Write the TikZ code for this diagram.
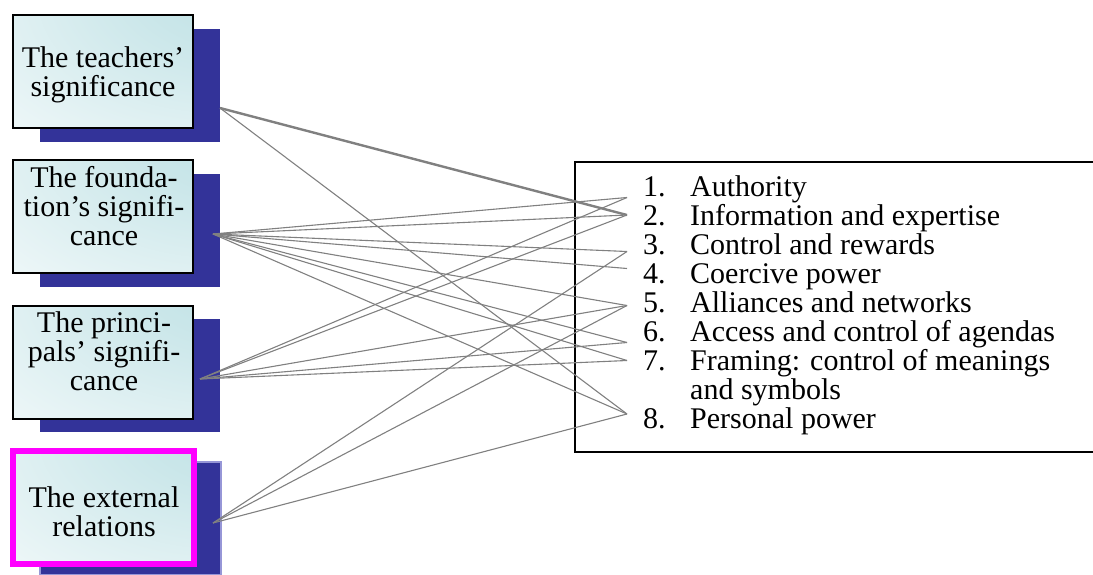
\documentclass[tikz,border=0pt]{standalone}
\usepackage{fontspec}
\setmainfont{Liberation Serif}
\usetikzlibrary{shadows}

\definecolor{shadowblue}{RGB}{51,51,153}
\definecolor{shadowedge}{RGB}{150,150,215}
\definecolor{boxteal}{RGB}{184,222,226}
\definecolor{linkgray}{RGB}{128,128,128}
\definecolor{hilite}{RGB}{255,0,255}

% teal glow spreading from the upper right corner of a box
\pgfdeclareradialshading{cornerfade}{\pgfpoint{50bp}{50bp}}{%
  color(0bp)=(boxteal); color(30bp)=(boxteal!75!white);
  color(75bp)=(boxteal!22!white); color(110bp)=(white);
  color(150bp)=(white)}

\newcommand{\itemno}[1]{\makebox[47pt][l]{#1}}

\begin{document}
\begin{tikzpicture}[x=1pt,y=1pt,
  srcbox/.style={draw=black, line width=2pt, inner sep=0pt,
    minimum width=180pt, minimum height=113pt,
    shade, shading=cornerfade,
    drop shadow={shadow xshift=27pt, shadow yshift=-13.5pt,
      fill=shadowblue, opacity=1}},
  hibox/.style={srcbox, draw=hilite, line width=6pt,
    minimum width=181pt,
    drop shadow={shadow xshift=27pt, shadow yshift=-11pt,
      fill=shadowblue, draw=shadowedge, line width=1.5pt, opacity=1}},
  boxtext/.style={align=center, inner sep=0pt, anchor=north,
    font=\fontsize{30}{29.2}\selectfont},
  link/.style={draw=linkgray, line width=1.1pt},
  strong link/.style={link, line width=2.4pt},
]
\useasboundingbox (0,0) rectangle (1093,-574);

% the four sources, each with its drop shadow
\node[srcbox] (teach) at (103,-71.5) {};
\node[srcbox] (found) at (103,-216.5) {};
\node[srcbox] (princ) at (103,-362) {};
\node[hibox]  (ext)   at (103.5,-507.5) {};

\node[boxtext] (teach-txt) at (103,-46.5) {The teachers’\\significance};
\node[boxtext] (found-txt) at (104,-166.2) {The founda-\\tion’s signifi-\\cance};
\node[boxtext] (princ-txt) at (104,-311.2) {The princi-\\pals’ signifi-\\cance};
\node[boxtext] (ext-txt)   at (104,-486.2) {The external\\relations};

% the list of power sources
\node[draw=black, line width=2pt, inner sep=0pt, anchor=north west,
  minimum width=523pt, minimum height=290pt] (frame) at (574,-161) {};
\node[anchor=north west, inner sep=0pt, align=left,
  font=\fontsize{30}{29}\selectfont] (powers) at (643,-175.5) {%
  \itemno{1.}Authority\\
  \itemno{2.}Information and expertise\\
  \itemno{3.}Control and rewards\\
  \itemno{4.}Coercive power\\
  \itemno{5.}Alliances and networks\\
  \itemno{6.}Access and control of agendas\\
  \itemno{7.}Framing: control of meanings\\
  \itemno{}and symbols\\
  \itemno{8.}Personal power};

% connector ends
\coordinate (teach-out) at (220,-108);
\coordinate (found-out) at (213,-234);
\coordinate (princ-out) at (200,-379);
\coordinate (ext-out)   at (213,-523);
\foreach \n/\y in {1/197.5,2/215,3/251.5,4/268.5,5/305.5,6/342.5,7/360.5,8/414}
  \coordinate (pw\n) at (627,-\y);

% connectors
\draw[strong link] (teach-out) -- (pw2);
\draw[link] (teach-out) -- (pw8);
\foreach \n in {1,...,8}
  \draw[link] (found-out) -- (pw\n);
\foreach \n in {1,2,5,6,7}
  \draw[link] (princ-out) -- (pw\n);
\foreach \n in {3,5,8}
  \draw[link] (ext-out) -- (pw\n);
\end{tikzpicture}
\end{document}
